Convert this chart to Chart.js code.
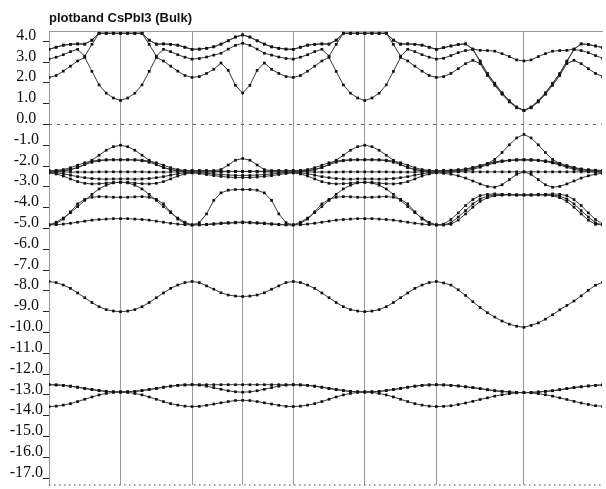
<!DOCTYPE html>
<html>
<head>
<meta charset="utf-8">
<title>plotband CsPbI3 (Bulk)</title>
<style>
  html, body { margin: 0; padding: 0; background: #fff; overflow: hidden; }
  #wrap { width: 606px; height: 489px; }
</style>
<script src="https://cdn.jsdelivr.net/npm/chart.js@4/dist/chart.umd.min.js"></script>
</head>
<body>
<div id="wrap"><canvas id="bands" width="606" height="489"></canvas></div>
<script>
// ---- k path: high-symmetry positions and number of k steps per segment ----
const symK = [0, 0.5, 1.0, 1.3536, 1.7071, 2.2071, 2.7071, 3.3195];
const pathEnd = 3.8695;
const stepsPerSegment = [10, 10, 7, 7, 10, 10, 12, 11];
const kVisibleMax = 3.865;

// ---- energy axis (eV) ----
const energyTicks = [4, 3, 2, 1, 0, -1, -2, -3, -4, -5, -6, -7, -8, -9, -10, -11, -12, -13, -14, -15, -16, -17];
const energyMin = -17.33;
const energyMax = 4.49;
const fermiLevel = 0;

// ---- conduction bands ----
const cond1 = [
  2.26, 2.35, 2.56, 2.80, 3.05, 3.22, 2.55, 1.90, 1.50, 1.27, 1.15,
  1.27, 1.50, 1.90, 2.55, 3.22, 3.05, 2.80, 2.56, 2.35, 2.26,
  2.30, 2.45, 2.65, 2.95, 2.60, 1.88, 1.51,
  1.88, 2.60, 2.95, 2.65, 2.45, 2.30, 2.26,
  2.35, 2.56, 2.80, 3.05, 3.22, 2.55, 1.90, 1.50, 1.27, 1.15,
  1.27, 1.50, 1.90, 2.55, 3.22, 3.05, 2.80, 2.56, 2.35, 2.26,
  2.30, 2.45, 2.68, 2.92, 3.08, 2.92, 2.35, 1.88, 1.45, 1.08, 0.80, 0.67,
  0.80, 1.08, 1.45, 1.88, 2.35, 2.92, 3.08, 2.92, 2.68, 2.45, 2.30
];
const cond2 = [
  3.14, 3.23, 3.35, 3.50, 3.61, 3.28, 3.85, 4.38, 4.38, 4.38, 4.38,
  4.38, 4.38, 4.38, 3.85, 3.28, 3.61, 3.50, 3.35, 3.23, 3.14,
  3.17, 3.24, 3.33, 3.42, 3.62, 3.80, 3.90,
  3.80, 3.62, 3.42, 3.33, 3.24, 3.17, 3.14,
  3.23, 3.35, 3.50, 3.61, 3.28, 3.85, 4.38, 4.38, 4.38, 4.38,
  4.38, 4.38, 4.38, 3.85, 3.28, 3.61, 3.50, 3.35, 3.23, 3.14,
  3.18, 3.31, 3.45, 3.55, 3.60, 3.02, 2.42, 1.95, 1.50, 1.12, 0.82, 0.67,
  0.82, 1.12, 1.50, 1.95, 2.42, 3.02, 3.60, 3.55, 3.45, 3.31, 3.18
];
const cond3 = [
  3.61, 3.71, 3.81, 3.85, 3.87, 3.86, 4.05, 4.38, 4.38, 4.38, 4.38,
  4.38, 4.38, 4.38, 4.05, 3.86, 3.87, 3.85, 3.81, 3.71, 3.61,
  3.62, 3.66, 3.73, 3.86, 4.02, 4.20, 4.30,
  4.20, 4.02, 3.86, 3.73, 3.66, 3.62, 3.61,
  3.71, 3.81, 3.85, 3.87, 3.86, 4.05, 4.38, 4.38, 4.38, 4.38,
  4.38, 4.38, 4.38, 4.05, 3.86, 3.87, 3.85, 3.81, 3.71, 3.61,
  3.69, 3.77, 3.84, 3.87, 3.62, 3.05, 2.45, 1.98, 1.52, 1.14, 0.84, 0.67,
  0.84, 1.14, 1.52, 1.98, 2.45, 3.05, 3.62, 3.87, 3.84, 3.77, 3.69
];
const cond4 = [
  3.61, 3.71, 3.81, 3.85, 3.87, 3.86, 4.05, 4.38, 4.38, 4.38, 4.38,
  4.38, 4.38, 4.38, 4.05, 3.86, 3.87, 3.85, 3.81, 3.71, 3.61,
  3.62, 3.66, 3.73, 3.86, 4.02, 4.20, 4.30,
  4.20, 4.02, 3.86, 3.73, 3.66, 3.62, 3.61,
  3.71, 3.81, 3.85, 3.87, 3.86, 4.05, 4.38, 4.38, 4.38, 4.38,
  4.38, 4.38, 4.38, 4.05, 3.86, 3.87, 3.85, 3.81, 3.71, 3.61,
  3.69, 3.77, 3.84, 3.87, 3.62, 3.56, 3.55, 3.52, 3.40, 3.26, 3.10, 3.05,
  3.10, 3.26, 3.40, 3.52, 3.55, 3.56, 3.62, 3.87, 3.84, 3.77, 3.69
];

// ---- upper valence bands ----
const val1 = [
  -2.22, -2.22, -2.21, -2.17, -2.08, -1.93, -1.72, -1.48, -1.24, -1.07, -1.00,
  -1.07, -1.24, -1.48, -1.72, -1.93, -2.08, -2.17, -2.21, -2.22, -2.22,
  -2.22, -2.22, -2.22, -2.17, -1.95, -1.72, -1.64,
  -1.72, -1.95, -2.17, -2.22, -2.22, -2.22, -2.22,
  -2.22, -2.21, -2.17, -2.08, -1.93, -1.72, -1.48, -1.24, -1.07, -1.00,
  -1.07, -1.24, -1.48, -1.72, -1.93, -2.08, -2.17, -2.21, -2.22, -2.22,
  -2.21, -2.20, -2.18, -2.15, -2.08, -2.00, -1.88, -1.68, -1.35, -0.98, -0.65, -0.48,
  -0.65, -0.98, -1.35, -1.68, -1.88, -2.00, -2.08, -2.15, -2.18, -2.20, -2.21
];
const val2 = [
  -2.22, -2.21, -2.17, -2.08, -1.96, -1.84, -1.76, -1.72, -1.70, -1.70, -1.70,
  -1.70, -1.70, -1.72, -1.76, -1.84, -1.96, -2.08, -2.17, -2.21, -2.22,
  -2.22, -2.23, -2.24, -2.25, -2.25, -2.26, -2.26,
  -2.26, -2.25, -2.25, -2.24, -2.23, -2.22, -2.22,
  -2.21, -2.17, -2.08, -1.96, -1.84, -1.76, -1.72, -1.70, -1.70, -1.70,
  -1.70, -1.70, -1.72, -1.76, -1.84, -1.96, -2.08, -2.17, -2.21, -2.22,
  -2.22, -2.21, -2.19, -2.14, -2.07, -1.98, -1.88, -1.80, -1.75, -1.72, -1.70, -1.70,
  -1.70, -1.72, -1.75, -1.80, -1.88, -1.98, -2.07, -2.14, -2.19, -2.21, -2.22
];
const val3 = [
  -2.28, -2.27, -2.24, -2.17, -2.06, -1.93, -1.82, -1.75, -1.71, -1.70, -1.70,
  -1.70, -1.71, -1.75, -1.82, -1.93, -2.06, -2.17, -2.24, -2.27, -2.28,
  -2.28, -2.28, -2.27, -2.27, -2.26, -2.26, -2.26,
  -2.26, -2.26, -2.27, -2.27, -2.28, -2.28, -2.28,
  -2.27, -2.24, -2.17, -2.06, -1.93, -1.82, -1.75, -1.71, -1.70, -1.70,
  -1.70, -1.71, -1.75, -1.82, -1.93, -2.06, -2.17, -2.24, -2.27, -2.28,
  -2.27, -2.25, -2.22, -2.18, -2.10, -2.00, -1.90, -1.82, -1.77, -1.73, -1.71, -1.70,
  -1.71, -1.73, -1.77, -1.82, -1.90, -2.00, -2.10, -2.18, -2.22, -2.25, -2.27
];
const val4 = [
  -2.28, -2.28, -2.28, -2.29, -2.29, -2.29, -2.29, -2.28, -2.28, -2.28, -2.28,
  -2.28, -2.28, -2.28, -2.29, -2.29, -2.29, -2.29, -2.28, -2.28, -2.28,
  -2.29, -2.29, -2.28, -2.27, -2.27, -2.26, -2.26,
  -2.26, -2.27, -2.27, -2.28, -2.29, -2.29, -2.28,
  -2.28, -2.28, -2.29, -2.29, -2.29, -2.29, -2.28, -2.28, -2.28, -2.28,
  -2.28, -2.28, -2.28, -2.29, -2.29, -2.29, -2.29, -2.28, -2.28, -2.28,
  -2.28, -2.28, -2.28, -2.28, -2.28, -2.28, -2.28, -2.28, -2.28, -2.28, -2.28, -2.28,
  -2.28, -2.28, -2.28, -2.28, -2.28, -2.28, -2.28, -2.28, -2.28, -2.28, -2.28
];
const val5 = [
  -2.30, -2.32, -2.37, -2.44, -2.51, -2.56, -2.60, -2.62, -2.63, -2.62, -2.62,
  -2.62, -2.63, -2.62, -2.60, -2.56, -2.51, -2.44, -2.37, -2.32, -2.30,
  -2.32, -2.35, -2.38, -2.41, -2.43, -2.45, -2.45,
  -2.45, -2.43, -2.41, -2.38, -2.35, -2.32, -2.30,
  -2.32, -2.37, -2.44, -2.51, -2.56, -2.60, -2.62, -2.63, -2.62, -2.62,
  -2.62, -2.63, -2.62, -2.60, -2.56, -2.51, -2.44, -2.37, -2.32, -2.30,
  -2.30, -2.29, -2.27, -2.23, -2.16, -2.06, -1.95, -1.85, -1.78, -1.73, -1.71, -1.70,
  -1.71, -1.73, -1.78, -1.85, -1.95, -2.06, -2.16, -2.23, -2.27, -2.29, -2.30
];
const val6 = [
  -2.33, -2.38, -2.48, -2.62, -2.75, -2.83, -2.86, -2.85, -2.82, -2.79, -2.78,
  -2.79, -2.82, -2.85, -2.86, -2.83, -2.75, -2.62, -2.48, -2.38, -2.33,
  -2.36, -2.41, -2.46, -2.50, -2.53, -2.55, -2.55,
  -2.55, -2.53, -2.50, -2.46, -2.41, -2.36, -2.33,
  -2.38, -2.48, -2.62, -2.75, -2.83, -2.86, -2.85, -2.82, -2.79, -2.78,
  -2.79, -2.82, -2.85, -2.86, -2.83, -2.75, -2.62, -2.48, -2.38, -2.33,
  -2.35, -2.39, -2.47, -2.58, -2.72, -2.86, -2.98, -3.02, -2.90, -2.65, -2.40, -2.28,
  -2.40, -2.65, -2.90, -3.02, -2.98, -2.86, -2.72, -2.58, -2.47, -2.39, -2.35
];
const val7 = [
  -4.83, -4.70, -4.50, -4.24, -3.95, -3.65, -3.36, -3.10, -2.92, -2.81, -2.78,
  -2.81, -2.92, -3.10, -3.36, -3.65, -3.95, -4.24, -4.50, -4.70, -4.83,
  -4.72, -4.30, -3.65, -3.29, -3.16, -3.13, -3.13,
  -3.13, -3.16, -3.29, -3.65, -4.30, -4.72, -4.83,
  -4.70, -4.50, -4.24, -3.95, -3.65, -3.36, -3.10, -2.92, -2.81, -2.78,
  -2.81, -2.92, -3.10, -3.36, -3.65, -3.95, -4.24, -4.50, -4.70, -4.83,
  -4.79, -4.57, -4.25, -3.90, -3.61, -3.42, -3.36, -3.34, -3.36, -3.37, -3.39, -3.39,
  -3.39, -3.37, -3.36, -3.34, -3.36, -3.42, -3.61, -3.90, -4.25, -4.57, -4.79
];
const val8 = [
  -4.83, -4.76, -4.55, -4.20, -3.82, -3.60, -3.50, -3.47, -3.48, -3.50, -3.50,
  -3.50, -3.48, -3.47, -3.50, -3.60, -3.82, -4.20, -4.55, -4.76, -4.83,
  -4.82, -4.80, -4.77, -4.74, -4.72, -4.70, -4.69,
  -4.70, -4.72, -4.74, -4.77, -4.80, -4.82, -4.83,
  -4.76, -4.55, -4.20, -3.82, -3.60, -3.50, -3.47, -3.48, -3.50, -3.50,
  -3.50, -3.48, -3.47, -3.50, -3.60, -3.82, -4.20, -4.55, -4.76, -4.83,
  -4.83, -4.73, -4.45, -4.14, -3.82, -3.58, -3.45, -3.39, -3.37, -3.37, -3.39, -3.39,
  -3.39, -3.37, -3.37, -3.39, -3.45, -3.58, -3.82, -4.14, -4.45, -4.73, -4.83
];
const val9 = [
  -4.83, -4.82, -4.79, -4.75, -4.70, -4.65, -4.60, -4.57, -4.55, -4.53, -4.53,
  -4.53, -4.55, -4.57, -4.60, -4.65, -4.70, -4.75, -4.79, -4.82, -4.83,
  -4.83, -4.82, -4.80, -4.77, -4.75, -4.73, -4.72,
  -4.73, -4.75, -4.77, -4.80, -4.82, -4.83, -4.83,
  -4.82, -4.79, -4.75, -4.70, -4.65, -4.60, -4.57, -4.55, -4.53, -4.53,
  -4.53, -4.55, -4.57, -4.60, -4.65, -4.70, -4.75, -4.79, -4.82, -4.83,
  -4.83, -4.80, -4.60, -4.30, -3.98, -3.70, -3.52, -3.43, -3.40, -3.39, -3.39, -3.39,
  -3.39, -3.39, -3.40, -3.43, -3.52, -3.70, -3.98, -4.30, -4.60, -4.80, -4.83
];

// ---- isolated band near -8 eV ----
const midBand = [
  -7.55, -7.60, -7.72, -7.88, -8.10, -8.33, -8.56, -8.76, -8.90, -8.97, -9.00,
  -8.97, -8.90, -8.76, -8.56, -8.33, -8.10, -7.88, -7.72, -7.60, -7.55,
  -7.60, -7.76, -7.92, -8.09, -8.20, -8.25, -8.27,
  -8.25, -8.20, -8.09, -7.92, -7.76, -7.60, -7.55,
  -7.60, -7.72, -7.88, -8.10, -8.33, -8.56, -8.76, -8.90, -8.97, -9.00,
  -8.97, -8.90, -8.76, -8.56, -8.33, -8.10, -7.88, -7.72, -7.60, -7.55,
  -7.62, -7.72, -7.95, -8.22, -8.52, -8.80, -9.05, -9.26, -9.45, -9.60, -9.70, -9.75,
  -9.66, -9.54, -9.36, -9.15, -8.91, -8.70, -8.49, -8.24, -7.97, -7.73, -7.58
];

// ---- deep bands between -12.5 and -13.6 eV ----
const deep1 = [
  -12.51, -12.52, -12.54, -12.58, -12.63, -12.69, -12.74, -12.79, -12.83, -12.85, -12.86,
  -12.85, -12.83, -12.79, -12.74, -12.69, -12.63, -12.58, -12.54, -12.52, -12.51,
  -12.51, -12.51, -12.51, -12.51, -12.51, -12.51, -12.51,
  -12.51, -12.51, -12.51, -12.51, -12.51, -12.51, -12.51,
  -12.52, -12.54, -12.58, -12.63, -12.69, -12.74, -12.79, -12.83, -12.85, -12.86,
  -12.85, -12.83, -12.79, -12.74, -12.69, -12.63, -12.58, -12.54, -12.52, -12.51,
  -12.52, -12.54, -12.57, -12.61, -12.65, -12.70, -12.75, -12.80, -12.83, -12.86, -12.88, -12.89,
  -12.88, -12.86, -12.83, -12.80, -12.75, -12.70, -12.65, -12.61, -12.57, -12.54, -12.52
];
const deep2 = [
  -12.51, -12.52, -12.54, -12.58, -12.63, -12.69, -12.74, -12.79, -12.83, -12.85, -12.86,
  -12.85, -12.83, -12.79, -12.74, -12.69, -12.63, -12.58, -12.54, -12.52, -12.51,
  -12.53, -12.58, -12.65, -12.73, -12.80, -12.85, -12.87,
  -12.85, -12.80, -12.73, -12.65, -12.58, -12.53, -12.51,
  -12.52, -12.54, -12.58, -12.63, -12.69, -12.74, -12.79, -12.83, -12.85, -12.86,
  -12.85, -12.83, -12.79, -12.74, -12.69, -12.63, -12.58, -12.54, -12.52, -12.51,
  -12.52, -12.54, -12.57, -12.61, -12.65, -12.70, -12.75, -12.80, -12.83, -12.86, -12.88, -12.89,
  -12.88, -12.86, -12.83, -12.80, -12.75, -12.70, -12.65, -12.61, -12.57, -12.54, -12.52
];
const deep3 = [
  -13.56, -13.54, -13.49, -13.42, -13.32, -13.21, -13.10, -13.00, -12.93, -12.88, -12.86,
  -12.88, -12.93, -13.00, -13.10, -13.21, -13.32, -13.42, -13.49, -13.54, -13.56,
  -13.55, -13.50, -13.44, -13.38, -13.32, -13.27, -13.26,
  -13.27, -13.32, -13.38, -13.44, -13.50, -13.55, -13.56,
  -13.54, -13.49, -13.42, -13.32, -13.21, -13.10, -13.00, -12.93, -12.88, -12.86,
  -12.88, -12.93, -13.00, -13.10, -13.21, -13.32, -13.42, -13.49, -13.54, -13.56,
  -13.55, -13.52, -13.46, -13.39, -13.31, -13.22, -13.14, -13.06, -12.99, -12.94, -12.90, -12.89,
  -12.90, -12.94, -12.99, -13.06, -13.14, -13.22, -13.31, -13.39, -13.46, -13.52, -13.55
];

const allBands = [cond1, cond2, cond3, cond4,
  val1, val2, val3, val4, val5, val6, val7, val8, val9,
  midBand, deep1, deep2, deep3];

// k coordinate of every sampled point along the path
const segmentEnds = symK.concat([pathEnd]);
const kPoints = [segmentEnds[0]];
stepsPerSegment.forEach((n, s) => {
  const a = segmentEnds[s], b = segmentEnds[s + 1];
  for (let i = 1; i <= n; i++) kPoints.push(a + (b - a) * i / n);
});

const bandStyle = {
  showLine: true,
  borderColor: '#3a3a3a',
  borderWidth: 1,
  pointStyle: 'rect',
  pointRadius: 1.9,
  pointBackgroundColor: '#111',
  pointBorderWidth: 0,
  tension: 0
};

// dashed reference lines: Fermi level and the lower frame edge
const guideLines = [
  { y: fermiLevel, dash: [3, 5], color: '#555' },
  { y: energyMin, dash: [1.5, 3.5], color: '#444' }
].map(g => ({
  data: [{ x: 0, y: g.y }, { x: kVisibleMax, y: g.y }],
  showLine: true,
  borderColor: g.color,
  borderWidth: 1,
  borderDash: g.dash,
  pointRadius: 0,
  clip: false
}));

const datasets = guideLines.concat(allBands.map(band => Object.assign({
  data: band.map((e, i) => ({ x: kPoints[i], y: e }))
}, bandStyle)));

Chart.defaults.font.family = 'Liberation Sans';

new Chart(document.getElementById('bands'), {
  type: 'scatter',
  data: { datasets },
  options: {
    responsive: false,
    animation: false,
    events: [],
    layout: { padding: { top: 0, left: 0, right: 0, bottom: 1 } },
    plugins: {
      legend: { display: false },
      tooltip: { enabled: false },
      title: {
        display: true,
        text: 'plotband CsPbI3 (Bulk)',
        align: 'start',
        fullSize: false,
        color: '#111',
        font: { family: 'Liberation Sans', size: 13, weight: 'bold', lineHeight: 1.2 },
        padding: { top: 11, bottom: 4.4 }
      }
    },
    scales: {
      x: {
        type: 'linear',
        min: 0,
        max: kVisibleMax,
        afterBuildTicks: s => { s.ticks = symK.map(v => ({ value: v })); },
        ticks: { display: false },
        grid: { color: '#9a9a9a', lineWidth: 1, drawTicks: false },
        border: { display: false }
      },
      xTop: {
        type: 'linear',
        position: 'top',
        min: 0,
        max: kVisibleMax,
        ticks: { display: false },
        grid: { display: false, drawTicks: false },
        border: { display: true, color: '#9a9a9a', width: 1 }
      },
      y: {
        type: 'linear',
        min: energyMin,
        max: energyMax,
        afterBuildTicks: s => { s.ticks = energyTicks.map(v => ({ value: v })); },
        afterFit: s => { s.width = 49; s.paddingTop = 0; s.paddingBottom = 0; },
        ticks: {
          autoSkip: false,
          crossAlign: 'center',
          padding: 0,
          color: '#111',
          font: { family: 'Liberation Serif', size: 16, lineHeight: 0.7 },
          callback: v => [Number(v).toFixed(1), '']
        },
        grid: { drawOnChartArea: false, drawTicks: true, tickLength: 6, color: '#222' },
        border: { display: true, color: '#9a9a9a', width: 1 }
      }
    }
  }
});
</script>
</body>
</html>
